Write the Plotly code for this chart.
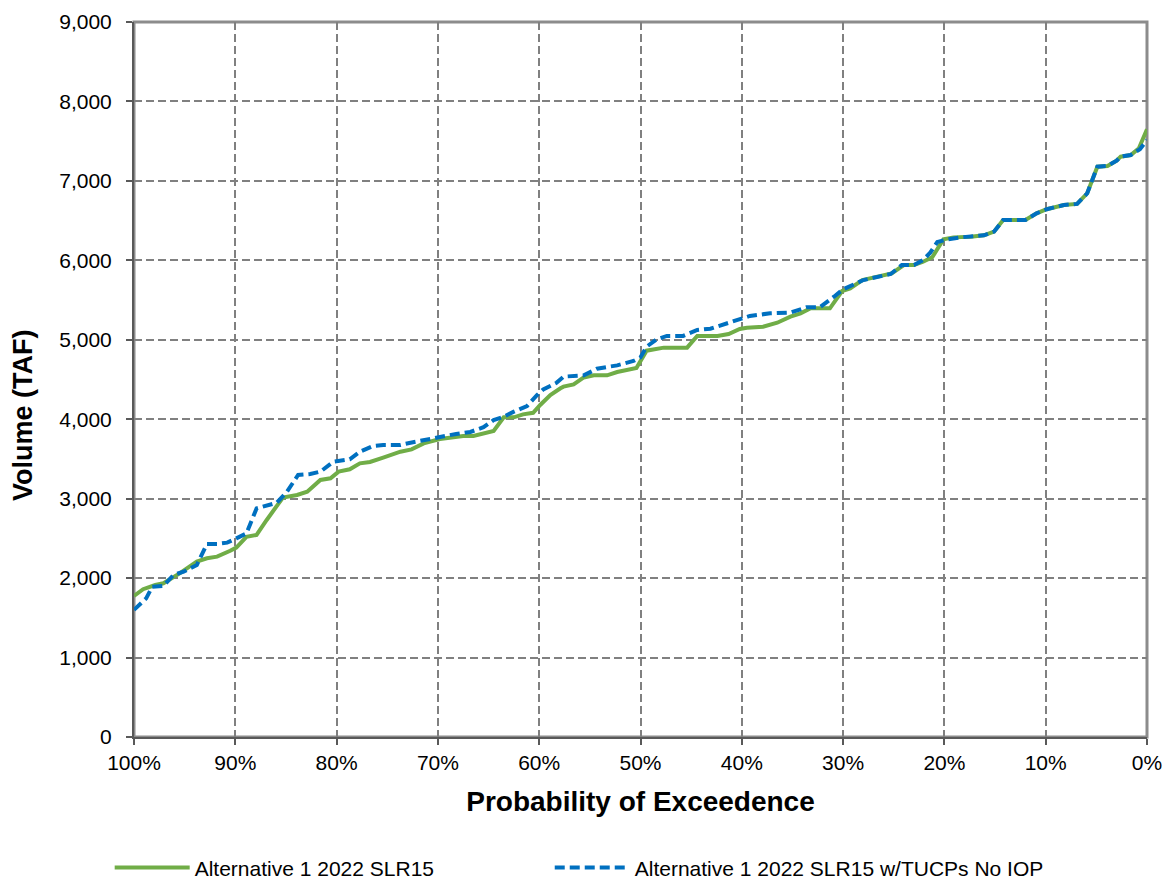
import plotly.graph_objects as go

# Alternative 1 2022 SLR15 (green, solid)
alt1_prob = [100.0, 99.1, 97.9, 97.1, 95.5, 93.8, 92.8, 91.8, 90.5, 89.9, 88.9, 87.9, 86.9, 85.3,
             83.9, 82.9, 81.6, 80.6, 79.8, 78.7, 77.7, 76.7, 75.4, 73.7, 72.6, 71.4, 69.8, 67.5,
             66.5, 65.5, 64.5, 63.5, 62.5, 61.6, 60.6, 59.9, 58.9, 57.9, 57.6, 56.6, 55.6, 54.6,
             53.3, 52.3, 50.4, 49.4, 47.7, 45.4, 44.4, 42.4, 41.3, 40.2, 39.5, 37.9, 36.5, 35.2,
             34.2, 33.2, 31.3, 30.1, 29.3, 28.1, 27.0, 25.2, 24.0, 23.0, 22.1, 21.2, 20.1, 19.1,
             17.4, 16.1, 15.1, 14.2, 12.0, 10.9, 9.9, 8.2, 6.9, 5.9, 4.9, 3.9, 3.0, 2.6, 1.6, 0.8, 0.0]
alt1_vol = [1775, 1860, 1913, 1935, 2060, 2207, 2250, 2270, 2345, 2385, 2520, 2543, 2732, 3015,
            3046, 3088, 3235, 3256, 3340, 3370, 3444, 3462, 3516, 3591, 3620, 3696, 3750, 3790,
            3790, 3815, 3852, 4024, 4024, 4061, 4081, 4179, 4305, 4389, 4410, 4438, 4526, 4552,
            4552, 4594, 4645, 4863, 4901, 4901, 5048, 5048, 5073, 5136, 5152, 5165, 5215, 5291,
            5333, 5396, 5396, 5614, 5647, 5752, 5785, 5836, 5941, 5941, 5983, 6038, 6264, 6289,
            6298, 6315, 6361, 6508, 6508, 6592, 6643, 6697, 6710, 6844, 7179, 7188, 7255, 7305, 7326, 7410, 7650]

# Alternative 1 2022 SLR15 w/TUCPs No IOP (blue, dashed)
tucp_prob = [100.0, 98.8, 98.2, 97.1, 96.1, 95.1, 93.8, 92.8, 91.8, 90.8, 89.9, 88.9, 87.9, 86.9,
             85.9, 84.9, 83.8, 82.6, 81.6, 80.3, 79.3, 78.7, 77.7, 76.4, 75.4, 73.7, 72.7, 71.4,
             69.8, 68.2, 66.8, 65.5, 64.5, 63.5, 62.5, 61.2, 60.2, 59.6, 58.3, 57.6, 55.6, 54.3,
             52.3, 50.7, 50.0, 49.4, 48.4, 47.4, 45.8, 44.4, 43.1, 42.0, 40.5, 39.2, 37.2, 35.2,
             33.6, 32.3, 30.9, 30.0, 28.0, 25.3, 24.2, 23.0, 22.1, 21.4, 20.7, 19.7, 18.4, 17.4,
             16.1, 15.1, 14.2, 12.0, 10.9, 9.9, 8.2, 6.9, 5.9, 4.9, 3.9, 3.0, 2.6, 1.6, 0.7, 0.0]
tucp_vol = [1600, 1745, 1892, 1900, 2040, 2080, 2165, 2430, 2430, 2446, 2500, 2563, 2877, 2907,
            2949, 3088, 3298, 3310, 3340, 3466, 3487, 3495, 3591, 3663, 3676, 3676, 3704, 3739,
            3780, 3815, 3840, 3899, 3990, 4032, 4095, 4166, 4305, 4375, 4458, 4536, 4552, 4636,
            4678, 4733, 4779, 4913, 5006, 5048, 5048, 5123, 5140, 5186, 5258, 5300, 5333, 5342,
            5409, 5409, 5542, 5635, 5752, 5828, 5941, 5941, 6004, 6096, 6231, 6264, 6289, 6298,
            6315, 6361, 6508, 6508, 6592, 6643, 6697, 6710, 6844, 7179, 7188, 7255, 7305, 7326, 7398, 7515]

x_ticks = [100, 90, 80, 70, 60, 50, 40, 30, 20, 10, 0]
x_ticktext = ["100%", "90%", "80%", "70%", "60%", "50%", "40%", "30%", "20%", "10%", "0%"]
y_ticks = [0, 1000, 2000, 3000, 4000, 5000, 6000, 7000, 8000, 9000]

FONT = "Arial, 'Liberation Sans', sans-serif"

fig = go.Figure()
fig.add_trace(go.Scatter(x=alt1_prob, y=alt1_vol, mode="lines",
                         name="Alternative 1 2022 SLR15", legend="legend",
                         line=dict(color="#70AD47", width=4)))
fig.add_trace(go.Scatter(x=tucp_prob, y=tucp_vol, mode="lines",
                         name="Alternative 1 2022 SLR15 w/TUCPs No IOP", legend="legend2",
                         line=dict(color="#0070C0", width=4, dash="10px,5px")))

legend_common = dict(orientation="h", xanchor="left", y=-0.183, yanchor="middle",
                     font=dict(size=21), itemwidth=75, bgcolor="rgba(0,0,0,0)")

fig.update_layout(
    width=1164, height=882,
    margin=dict(l=134, r=17, t=22, b=145, autoexpand=False),
    paper_bgcolor="white", plot_bgcolor="white",
    font=dict(family=FONT, size=21, color="black"),
    showlegend=True,
    legend=dict(x=-0.024, **legend_common),
    legend2=dict(x=0.4104, **legend_common),
    shapes=[dict(type="rect", xref="paper", yref="paper", x0=0, y0=0, x1=1, y1=1,
                 line=dict(color="#8C8C8C", width=3), layer="below")],
)

fig.update_xaxes(range=[100, 0], tickvals=x_ticks, ticktext=x_ticktext,
                 showgrid=True, gridcolor="#808080", gridwidth=2, griddash="8px,4px",
                 showline=True, linecolor="#595959", linewidth=2,
                 ticks="outside", ticklen=6, tickcolor="#595959", tickwidth=1.5,
                 zeroline=False,
                 title=dict(text="<b>Probability of Exceedence</b>", font=dict(size=28), standoff=18))
fig.update_yaxes(range=[0, 9000], tickvals=y_ticks, tickformat=",d",
                 showgrid=True, gridcolor="#808080", gridwidth=2, griddash="8px,4px",
                 showline=True, linecolor="#595959", linewidth=2,
                 ticks="outside", ticklen=6, tickcolor="#595959", tickwidth=1.5,
                 zeroline=False, ticklabelstandoff=10)

fig.add_annotation(text="<b>Volume (TAF)</b>", textangle=-90, xref="paper", yref="paper",
                   x=(23 - 134) / 1013, y=(737 - 416) / 715, xanchor="center", yanchor="middle",
                   showarrow=False, font=dict(size=27, family=FONT))

fig.write_html("out.html")
